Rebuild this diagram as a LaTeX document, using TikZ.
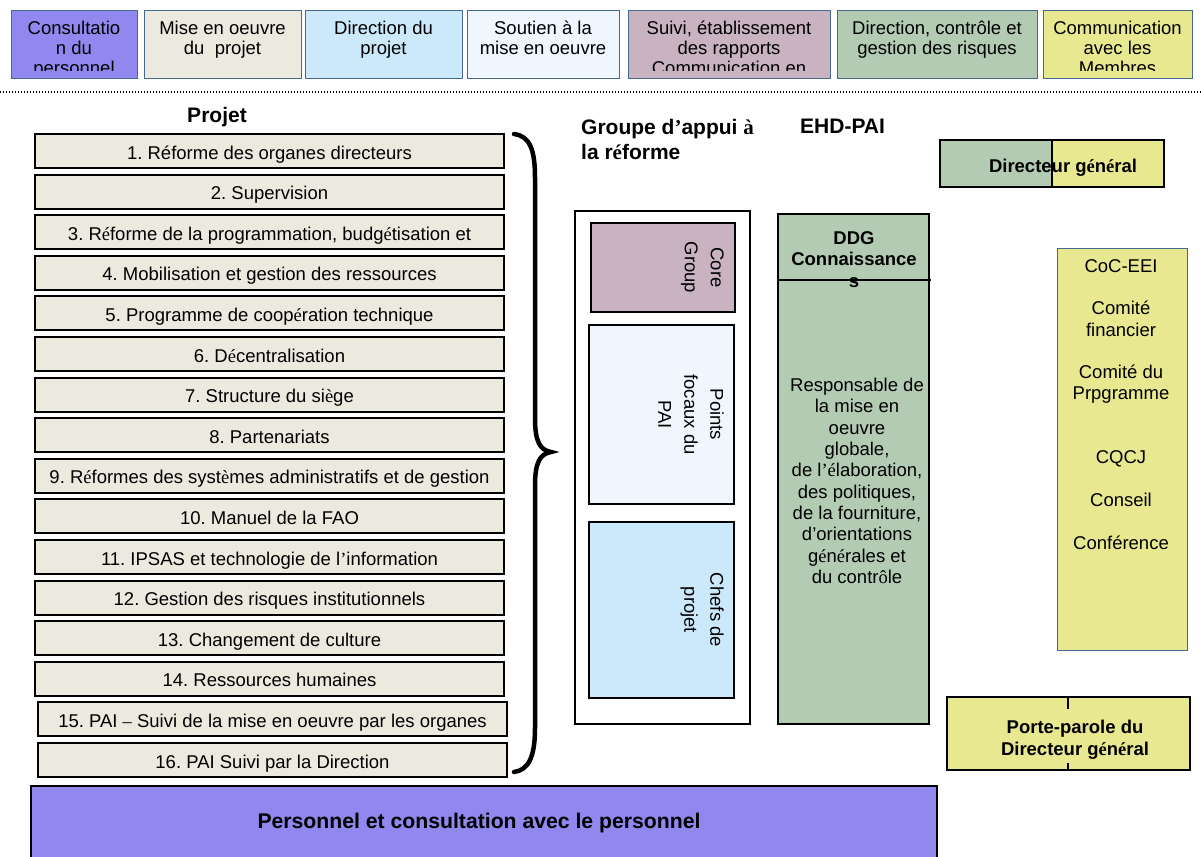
\documentclass[tikz,border=0pt]{standalone}
\usepackage{fontspec}
\setmainfont{Liberation Sans}
\newfontfamily\srf{Liberation Serif}
\newcommand\sv[1]{{\srf #1}}
\definecolor{cpurple}{RGB}{144,136,238}
\definecolor{cbeige}{RGB}{236,233,223}
\definecolor{cblue}{RGB}{204,233,252}
\definecolor{cpale}{RGB}{239,246,254}
\definecolor{cmauve}{RGB}{201,179,193}
\definecolor{cgreen}{RGB}{179,203,179}
\definecolor{cyellow}{RGB}{232,232,144}
\definecolor{cbord}{RGB}{70,105,145}
\tikzset{
  lgline/.style={draw=cbord, line width=0.9pt},
  lgtxt/.style={anchor=north, inner sep=0pt, align=center, font=\fontsize{18.5}{20}\selectfont},
  pbox/.style={draw=black, line width=2pt, fill=cbeige, minimum width=469pt, minimum height=34pt, inner sep=0pt, text height=19pt, text depth=3pt, font=\fontsize{18.5}{21}\selectfont},
  rot/.style={rotate=-90, anchor=north, inner sep=0pt, align=center, font=\fontsize{18.5}{26}\selectfont},
  head/.style={inner sep=0pt, font=\fontsize{21}{25}\selectfont\bfseries},
  txt/.style={anchor=north, inner sep=0pt, align=center, font=\fontsize{18.5}{21.3}\selectfont},
  btxt/.style={anchor=north, inner sep=0pt, align=center, font=\fontsize{18.5}{21.5}\selectfont\bfseries},
}
\newcommand\legbox[5]{%
  \path[fill=#4] (#2,10) rectangle (#3,78);
  \begin{scope}
    \clip (#2,10) rectangle (#3,70.5);
    \node[lgtxt] (#1) at ({(#2+#3)/2},21) {#5};
  \end{scope}
  \draw[lgline] (#2,10) rectangle (#3,78);}
\newcommand\bx[6]{\node[#6, inner sep=0pt, minimum width={(#4-#2)*1pt}, minimum height={(#5-#3)*1pt}] (#1) at ({(#2+#4)/2},{(#3+#5)/2}) {};}
\begin{document}
\frenchspacing
\begin{tikzpicture}[x=1pt,y=-1pt]
\useasboundingbox (0,0) rectangle (1201,856);
\clip (0,0) rectangle (1201,856);
\fill[white] (0,0) rectangle (1201,856);
% legend
\legbox{lg1}{11}{137}{cpurple}{Consultatio\\n du\\personnel}
\legbox{lg2}{144}{301}{cbeige}{Mise en oeuvre\\du\ \ projet}
\legbox{lg3}{305}{462}{cblue}{Direction du\\projet}
\legbox{lg4}{467}{619}{cpale}{Soutien à la\\mise en oeuvre}
\legbox{lg5}{628}{830}{cmauve}{Suivi, établissement\\des rapports\\Communication en}
\legbox{lg6}{837}{1037}{cgreen}{Direction, contrôle et\\gestion des risques}
\legbox{lg7}{1043}{1192}{cyellow}{Communication\\avec les\\Membres}
\draw[line width=1.3pt, dash pattern=on 1.3pt off 1.7pt] (0,92) -- (1201,92);
% project list
\node[head, anchor=base] (projet) at (217,122.5) {Projet};
\node[pbox] (p1) at (269.5,151) {1. Réforme des organes directeurs};
\node[pbox] (p2) at (269.5,191.6) {2. Supervision};
\node[pbox] (p3) at (269.5,232.2) {3. R\sv{é}forme de la programmation, budg\sv{é}tisation et};
\node[pbox] (p4) at (269.5,272.8) {4. Mobilisation et gestion des ressources};
\node[pbox] (p5) at (269.5,313.4) {5. Programme de coop\sv{é}ration technique};
\node[pbox] (p6) at (269.5,354) {6. D\sv{é}centralisation};
\node[pbox] (p7) at (269.5,394.6) {7. Structure du si\sv{è}ge};
\node[pbox] (p8) at (269.5,435.2) {8. Partenariats};
\node[pbox] (p9) at (269.5,475.8) {9. R\sv{é}formes des syst\sv{è}mes administratifs et de gestion};
\node[pbox] (p10) at (269.5,516.4) {10. Manuel de la FAO};
\node[pbox] (p11) at (269.5,557) {11. IPSAS et technologie de l\sv{’}information};
\node[pbox] (p12) at (269.5,597.6) {12. Gestion des risques institutionnels};
\node[pbox] (p13) at (269.5,638.2) {13. Changement de culture};
\node[pbox] (p14) at (269.5,678.8) {14. Ressources humaines};
\node[pbox] (p15) at (272.5,719.4) {15. PAI \sv{–} Suivi de la mise en oeuvre par les organes};
\node[pbox] (p16) at (272.5,760) {16. PAI Suivi par la Direction};
% brace
\draw[line width=4.5pt, line cap=round] (514,134) .. controls (530,136) and (535,150) .. (535,178) -- (535,418) .. controls (535,442) and (540,450) .. (551,452) .. controls (540,454) and (535,462) .. (535,486) -- (535,728) .. controls (535,758) and (528,770) .. (514,772);
% groupe d'appui
\node[head, anchor=north west, align=left] (ga) at (581,119) {Groupe d\sv{’}appui \sv{à}\\la r\sv{é}forme};
\node[head, anchor=north west] (ehd) at (800,119) {EHD-PAI};
\bx{grp}{575}{211}{750}{724}{draw, line width=1.5pt, fill=white}
\bx{core}{591}{223}{735}{312}{draw, line width=1.5pt, fill=cmauve}
\bx{pts}{589}{325}{734}{504}{draw, line width=1.5pt, fill=cpale}
\bx{chefs}{589}{522}{734}{698}{draw, line width=1.5pt, fill=cblue}
\node[rot] (coret) at (724,267.5) {Core\\Group};
\node[rot] (ptst) at (724,414.5) {Points\\focaux du\\PAI};
\node[rot] (chefst) at (724,610) {Chefs de\\projet};
% DDG
\bx{ddg}{778}{214}{929}{724}{draw, line width=2pt, fill=cgreen}
\draw[line width=1.5pt] (778,280) -- (931,280);
\node[btxt] (ddgt) at (854,231) {DDG\\Connaissance\\s};
\node[txt] (resp) at (857,378) {Responsable de\\la mise en\\oeuvre\\globale,\\de l\sv{’}\sv{é}laboration,\\des politiques,\\de la fourniture,\\d’orientations\\g\sv{é}n\sv{é}rales et\\du contr\sv{ô}le};
% Directeur general
\bx{dgg}{940}{140}{1052}{187}{draw, line width=2pt, fill=cgreen}
\bx{dgy}{1052}{140}{1164}{187}{draw, line width=2pt, fill=cyellow}
\node[inner sep=0pt, anchor=base, font=\fontsize{18.5}{21}\selectfont\bfseries] (dgt) at (1063,172) {Directeur g\sv{é}n\sv{é}ral};
% committees
\bx{comm}{1057}{248}{1187}{650}{draw=cbord, line width=1pt, fill=cyellow}
\node[txt] (commt) at (1121,259) {CoC-EEI\\~\\Comité\\financier\\~\\Comité du\\Prpgramme\\~\\~\\CQCJ\\~\\Conseil\\~\\Conférence};
% porte-parole
\bx{pp}{947}{697}{1190}{770}{draw, line width=2.5pt, fill=cyellow}
\draw[line width=1.5pt] (1068,697) -- (1068,709);
\draw[line width=1.5pt] (1068,763) -- (1068,770);
\node[btxt] (ppt) at (1075,720) {Porte-parole du\\Directeur g\sv{é}n\sv{é}ral};
% staff
\bx{staff}{31}{786}{937}{875}{draw, line width=2pt, fill=cpurple}
\node[inner sep=0pt, anchor=base, font=\fontsize{21.2}{25}\selectfont\bfseries] (stafft) at (479,828.5) {Personnel et consultation avec le personnel};
\end{tikzpicture}
\end{document}
